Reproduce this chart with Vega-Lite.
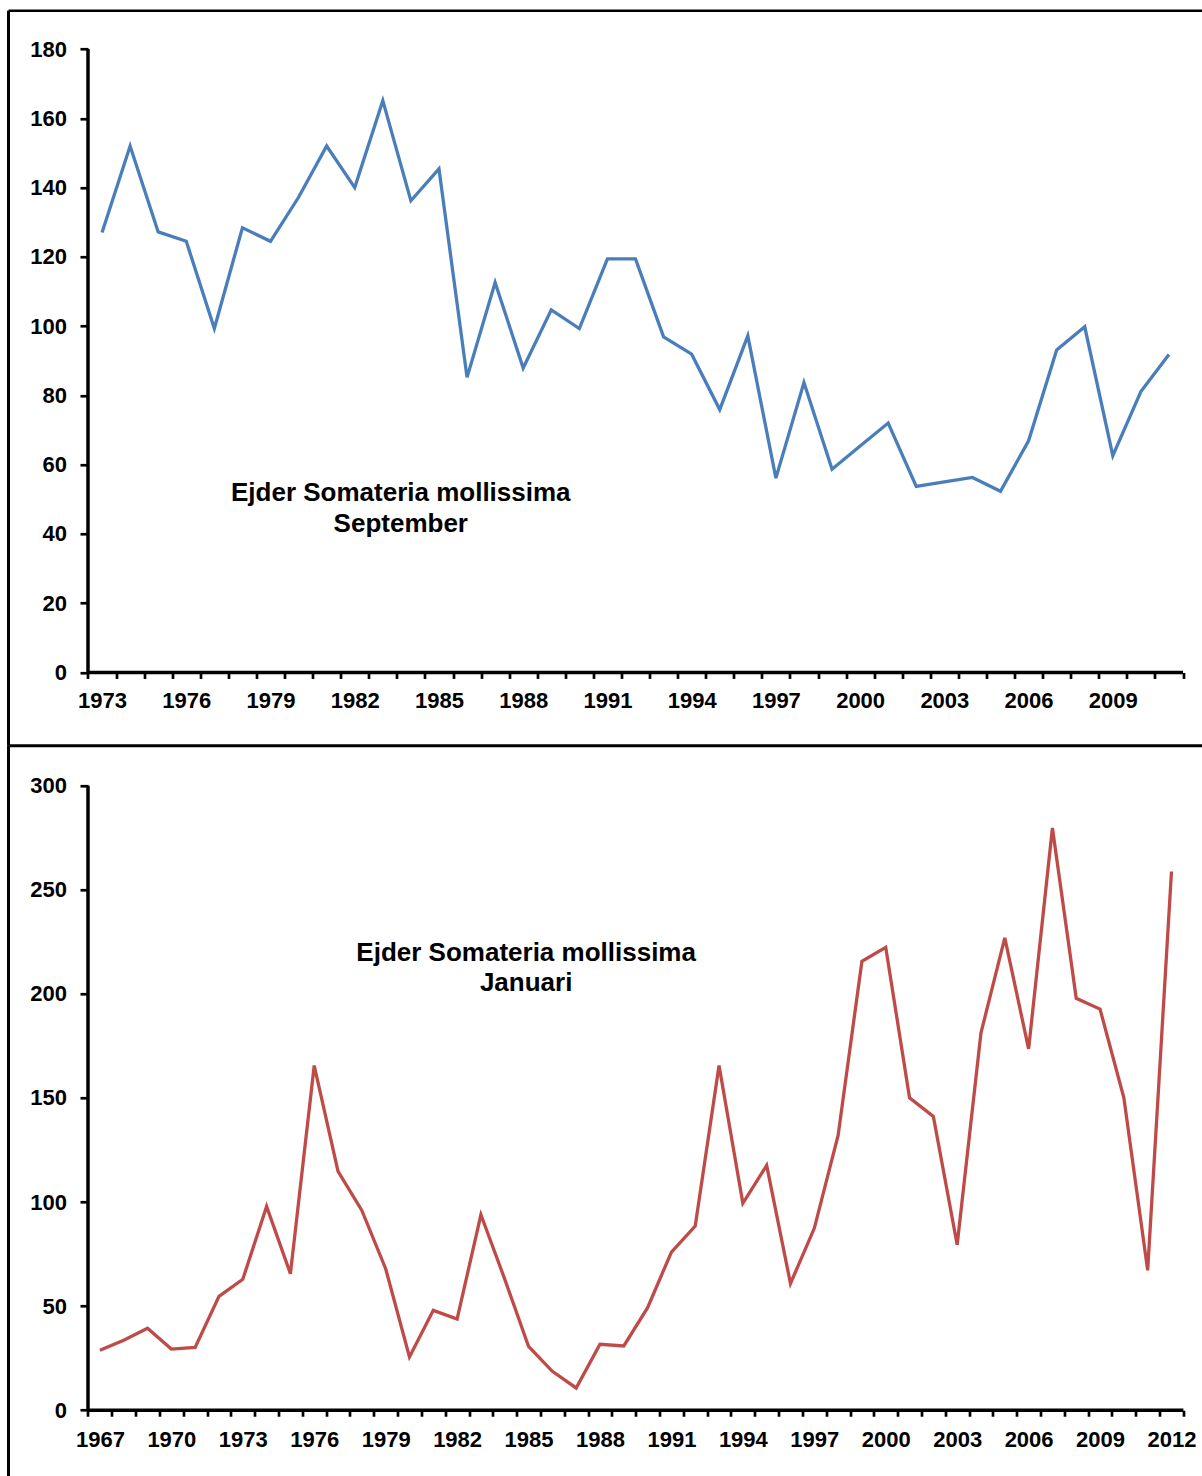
{
  "$schema": "https://vega.github.io/schema/vega-lite/v6.json",
  "padding": {"left": 6.5, "top": 8.75, "right": 0, "bottom": 0},
  "background": "white",
  "bounds": "flush",
  "spacing": 0,
  "config": {"view": {"stroke": null}, "font": "Liberation Sans"},
  "datasets": {
    "one": [{}],
    "sept": [
      {"year": 1973, "value": 127}, {"year": 1974, "value": 152}, {"year": 1975, "value": 127.2},
      {"year": 1976, "value": 124.5}, {"year": 1977, "value": 99.3}, {"year": 1978, "value": 128.4},
      {"year": 1979, "value": 124.5}, {"year": 1980, "value": 137.2}, {"year": 1981, "value": 152},
      {"year": 1982, "value": 140}, {"year": 1983, "value": 165.1}, {"year": 1984, "value": 136.2},
      {"year": 1985, "value": 145.4}, {"year": 1986, "value": 85.2}, {"year": 1987, "value": 112.6},
      {"year": 1988, "value": 87.9}, {"year": 1989, "value": 104.7}, {"year": 1990, "value": 99.3},
      {"year": 1991, "value": 119.4}, {"year": 1992, "value": 119.4}, {"year": 1993, "value": 96.9},
      {"year": 1994, "value": 91.9}, {"year": 1995, "value": 75.9}, {"year": 1996, "value": 97.2},
      {"year": 1997, "value": 56.1}, {"year": 1998, "value": 83.7}, {"year": 1999, "value": 58.7},
      {"year": 2000, "value": 65.4}, {"year": 2001, "value": 72}, {"year": 2002, "value": 53.7},
      {"year": 2003, "value": 55}, {"year": 2004, "value": 56.3}, {"year": 2005, "value": 52.3},
      {"year": 2006, "value": 66.9}, {"year": 2007, "value": 93.1}, {"year": 2008, "value": 99.8},
      {"year": 2009, "value": 62.6}, {"year": 2010, "value": 81.1}, {"year": 2011, "value": 91.8}
    ],
    "jan": [
      {"year": 1967, "value": 28.8}, {"year": 1968, "value": 33.6}, {"year": 1969, "value": 39.4},
      {"year": 1970, "value": 29.4}, {"year": 1971, "value": 30.2}, {"year": 1972, "value": 54.7},
      {"year": 1973, "value": 62.9}, {"year": 1974, "value": 97.9}, {"year": 1975, "value": 65.6},
      {"year": 1976, "value": 165.6}, {"year": 1977, "value": 114.7}, {"year": 1978, "value": 96},
      {"year": 1979, "value": 68}, {"year": 1980, "value": 25.6}, {"year": 1981, "value": 48},
      {"year": 1982, "value": 43.8}, {"year": 1983, "value": 93.9}, {"year": 1984, "value": 63},
      {"year": 1985, "value": 30.7}, {"year": 1986, "value": 18.7}, {"year": 1987, "value": 10.7},
      {"year": 1988, "value": 31.7}, {"year": 1989, "value": 30.9}, {"year": 1990, "value": 49.3},
      {"year": 1991, "value": 76}, {"year": 1992, "value": 88.5}, {"year": 1993, "value": 165.6},
      {"year": 1994, "value": 99.4}, {"year": 1995, "value": 117.6}, {"year": 1996, "value": 60.9},
      {"year": 1997, "value": 87.4}, {"year": 1998, "value": 132}, {"year": 1999, "value": 215.7},
      {"year": 2000, "value": 222.4}, {"year": 2001, "value": 150.1}, {"year": 2002, "value": 141.1},
      {"year": 2003, "value": 79.5}, {"year": 2004, "value": 181.3}, {"year": 2005, "value": 226.9},
      {"year": 2006, "value": 173.6}, {"year": 2007, "value": 279.7}, {"year": 2008, "value": 197.9},
      {"year": 2009, "value": 192.7}, {"year": 2010, "value": 150.1}, {"year": 2011, "value": 67.2},
      {"year": 2012, "value": 258.8}
    ]
  },
  "vconcat": [
    {
      "width": 1194,
      "height": 735,
      "layer": [
        {
          "data": {"name": "sept"},
          "mark": {"type": "line", "color": "#4A7EBB", "strokeWidth": 3.3},
          "encoding": {
            "x": {
              "field": "year", "type": "quantitative",
              "scale": {"domain": [1969.6685, 2012.1945], "nice": false, "zero": false},
              "axis": {
                "title": null, "orient": "bottom", "offset": -73.3, "domain": false, "grid": false,
                "values": [1973,1974,1975,1976,1977,1978,1979,1980,1981,1982,1983,1984,1985,1986,1987,1988,1989,1990,1991,1992,1993,1994,1995,1996,1997,1998,1999,2000,2001,2002,2003,2004,2005,2006,2007,2008,2009,2010,2011,2012],
                "tickCount": 200,
                "format": "d",
                "tickOffset": -14.0385, "labelOffset": 14.0385,
                "labelExpr": "(datum.value - 1973) % 3 === 0 && datum.value < 2012 ? datum.label : ''",
                "labelFlush": false, "labelOverlap": false, "labelBound": false,
                "tickSize": 6, "tickWidth": 2.7, "tickColor": "black",
                "labelFontSize": 22, "labelFontWeight": "bold", "labelColor": "black", "labelPadding": 12,
                "labelFont": "Liberation Sans"
              }
            },
            "y": {
              "field": "value", "type": "quantitative",
              "scale": {"domain": [-21.165, 191.059], "nice": false, "zero": false},
              "axis": {
                "title": null, "orient": "left", "offset": -79.5, "domain": false, "grid": false,
                "values": [0,20,40,60,80,100,120,140,160,180],
                "tickCount": 100,
                "tickSize": 8, "tickWidth": 2.7, "tickColor": "black",
                "labelFontSize": 22, "labelFontWeight": "bold", "labelColor": "black", "labelPadding": 13.5,
                "labelFont": "Liberation Sans"
              }
            }
          }
        },
        {
          "data": {"name": "one"},
          "mark": {"type": "rule", "color": "black", "strokeWidth": 3.5},
          "encoding": {
            "x": {"datum": 1972.5, "type": "quantitative"},
            "y": {"datum": 0, "type": "quantitative"},
            "y2": {"datum": 180}
          }
        },
        {
          "data": {"name": "one"},
          "mark": {"type": "rule", "color": "black", "strokeWidth": 3.5},
          "encoding": {
            "x": {"datum": 1972.5, "type": "quantitative"},
            "x2": {"datum": 2011.5},
            "y": {"datum": 0, "type": "quantitative"}
          }
        },
        {
          "data": {"name": "one"},
          "mark": {"type": "rule", "color": "black", "strokeWidth": 2.5},
          "encoding": {
            "x": {"datum": 1969.6685, "type": "quantitative"},
            "x2": {"datum": 2012.1945},
            "y": {"datum": 191.059, "type": "quantitative"}
          }
        },
        {
          "data": {"name": "one"},
          "mark": {"type": "rule", "color": "black", "strokeWidth": 3},
          "encoding": {
            "x": {"datum": 1969.6685, "type": "quantitative"},
            "y": {"datum": -21.165, "type": "quantitative"},
            "y2": {"datum": 191.059}
          }
        },
        {
          "data": {"name": "one"},
          "mark": {"type": "text", "fontSize": 26, "fontWeight": "bold", "color": "black", "align": "center", "baseline": "alphabetic", "lineHeight": 30.5, "font": "Liberation Sans"},
          "encoding": {
            "x": {"datum": 1983.64, "type": "quantitative"},
            "y": {"datum": 49.37, "type": "quantitative"},
            "text": {"value": ["Ejder Somateria mollissima", "September"]}
          }
        }
      ]
    },
    {
      "width": 1194,
      "height": 731,
      "layer": [
        {
          "data": {"name": "jan"},
          "mark": {"type": "line", "color": "#BE4B48", "strokeWidth": 3.3},
          "encoding": {
            "x": {
              "field": "year", "type": "quantitative",
              "scale": {"domain": [1963.1615, 2013.3025], "nice": false, "zero": false},
              "axis": {
                "title": null, "orient": "bottom", "offset": -66.5, "domain": false, "grid": false,
                "values": [1967,1968,1969,1970,1971,1972,1973,1974,1975,1976,1977,1978,1979,1980,1981,1982,1983,1984,1985,1986,1987,1988,1989,1990,1991,1992,1993,1994,1995,1996,1997,1998,1999,2000,2001,2002,2003,2004,2005,2006,2007,2008,2009,2010,2011,2012,2013],
                "tickCount": 200,
                "format": "d",
                "tickOffset": -11.9065, "labelOffset": 11.9065,
                "labelExpr": "(datum.value - 1967) % 3 === 0 && datum.value < 2013 ? datum.label : ''",
                "labelFlush": false, "labelOverlap": false, "labelBound": false,
                "tickSize": 6, "tickWidth": 2.7, "tickColor": "black",
                "labelFontSize": 22, "labelFontWeight": "bold", "labelColor": "black", "labelPadding": 13,
                "labelFont": "Liberation Sans"
              }
            },
            "y": {
              "field": "value", "type": "quantitative",
              "scale": {"domain": [-31.946, 319.215], "nice": false, "zero": false},
              "axis": {
                "title": null, "orient": "left", "offset": -79.5, "domain": false, "grid": false,
                "values": [0,50,100,150,200,250,300],
                "tickCount": 100,
                "tickSize": 8, "tickWidth": 2.7, "tickColor": "black",
                "labelFontSize": 22, "labelFontWeight": "bold", "labelColor": "black", "labelPadding": 13.5,
                "labelFont": "Liberation Sans"
              }
            }
          }
        },
        {
          "data": {"name": "one"},
          "mark": {"type": "rule", "color": "black", "strokeWidth": 3.5},
          "encoding": {
            "x": {"datum": 1966.5, "type": "quantitative"},
            "y": {"datum": 0, "type": "quantitative"},
            "y2": {"datum": 300}
          }
        },
        {
          "data": {"name": "one"},
          "mark": {"type": "rule", "color": "black", "strokeWidth": 3.5},
          "encoding": {
            "x": {"datum": 1966.5, "type": "quantitative"},
            "x2": {"datum": 2012.5},
            "y": {"datum": 0, "type": "quantitative"}
          }
        },
        {
          "data": {"name": "one"},
          "mark": {"type": "rule", "color": "black", "strokeWidth": 3},
          "encoding": {
            "x": {"datum": 1963.1615, "type": "quantitative"},
            "x2": {"datum": 2013.3025},
            "y": {"datum": 319.215, "type": "quantitative"}
          }
        },
        {
          "data": {"name": "one"},
          "mark": {"type": "rule", "color": "black", "strokeWidth": 3},
          "encoding": {
            "x": {"datum": 1963.1615, "type": "quantitative"},
            "y": {"datum": -31.946, "type": "quantitative"},
            "y2": {"datum": 319.215}
          }
        },
        {
          "data": {"name": "one"},
          "mark": {"type": "text", "fontSize": 26, "fontWeight": "bold", "color": "black", "align": "center", "baseline": "alphabetic", "lineHeight": 30, "font": "Liberation Sans"},
          "encoding": {
            "x": {"datum": 1984.9, "type": "quantitative"},
            "y": {"datum": 215.6, "type": "quantitative"},
            "text": {"value": ["Ejder Somateria mollissima", "Januari"]}
          }
        }
      ]
    }
  ]
}
